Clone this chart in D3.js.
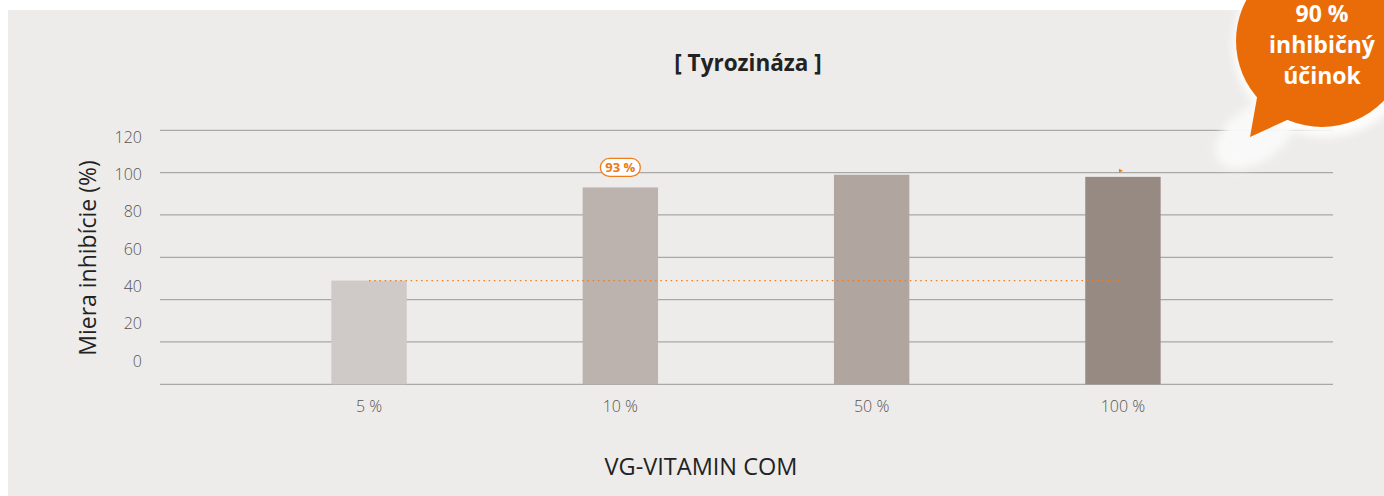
<!DOCTYPE html>
<html>
<head>
<meta charset="utf-8">
<script src="https://cdn.jsdelivr.net/npm/d3@7"></script>
<style>
  body { margin: 0; background: #fff; }
  svg { display: block; font-family: "Open Sans", sans-serif; }
</style>
</head>
<body>
<script>
// data
var categories = ["5 %", "10 %", "50 %", "100 %"];
var values = [49, 93, 99, 98];
var barColors = ["#cfc9c8", "#bdb3ae", "#b1a59f", "#978a82"];
var yTicks = [0, 20, 40, 60, 80, 100, 120];
var refLevel = 49;
var callout = { index: 1, text: "93 %" };
var bubbleLines = ["90 %", "inhibičný", "účinok"];

var W = 1384, H = 496;

var svg = d3.select("body").append("svg")
    .attr("width", W)
    .attr("height", H);

var defs = svg.append("defs");
defs.append("filter").attr("id", "blur")
    .attr("x", "-50%").attr("y", "-50%").attr("width", "200%").attr("height", "200%")
  .append("feGaussianBlur").attr("stdDeviation", 4);

// panel background
svg.append("rect")
    .attr("x", 8).attr("y", 10)
    .attr("width", W - 8).attr("height", H - 10)
    .attr("fill", "#edecea");

var y = d3.scaleLinear().domain([0, 120]).range([384.3, 130.3]);
// the tick labels sit on their own spacing in the original
var yLab = d3.scaleLinear().domain([0, 120]).range([361, 137]);
var x = d3.scaleBand().domain(categories)
    .range([243.4, 1248.6])
    .paddingInner(0.7).paddingOuter(0.35);

// gridlines
svg.append("g").selectAll("line")
    .data(yTicks)
    .enter().append("line")
    .attr("x1", 160).attr("x2", 1333)
    .attr("y1", function(d) { return y(d); })
    .attr("y2", function(d) { return y(d); })
    .attr("stroke", "#a8a8a6")
    .attr("stroke-width", 1.3);

// y tick labels
var yAxis = d3.axisLeft(yLab).tickValues(yTicks).tickSize(0).tickPadding(0);
var ga = svg.append("g").attr("transform", "translate(142,0)").call(yAxis);
ga.select(".domain").remove();
ga.selectAll("text")
    .attr("font-family", "Open Sans")
    .attr("font-size", 16)
    .attr("font-weight", 300)
    .attr("fill", "#555");

// bars
svg.append("g").selectAll("rect")
    .data(values)
    .enter().append("rect")
    .attr("x", function(d, i) { return x(categories[i]); })
    .attr("y", function(d) { return y(d); })
    .attr("width", x.bandwidth())
    .attr("height", function(d) { return y(0) - y(d); })
    .attr("fill", function(d, i) { return barColors[i]; });

// x labels
var xAxis = d3.axisBottom(x).tickSize(0).tickPadding(0);
var gx = svg.append("g").attr("transform", "translate(0,401)").call(xAxis);
gx.select(".domain").remove();
gx.selectAll("text")
    .attr("font-family", "Open Sans")
    .attr("font-size", 16)
    .attr("font-weight", 300)
    .attr("fill", "#555");

// orange dotted reference line
svg.append("line")
    .attr("x1", x(categories[0]) + x.bandwidth() / 2)
    .attr("x2", x(categories[3]) + x.bandwidth() / 2 - 4)
    .attr("y1", y(refLevel)).attr("y2", y(refLevel))
    .attr("stroke", "#f07d1a")
    .attr("stroke-width", 1.4)
    .attr("stroke-dasharray", "1.5,3.7");

// small orange marker above the last bar
var mx = x(categories[3]) + x.bandwidth() / 2 - 4;
svg.append("path")
    .attr("d", "M" + mx + "," + (y(100) - 4) + "l4,2l-4,2z")
    .attr("fill", "#f07d1a");

// 93 % callout
var cx = x(categories[callout.index]) + x.bandwidth() / 2;
var cy = y(values[callout.index]) - 20;
svg.append("rect")
    .attr("x", cx - 20).attr("y", cy - 9)
    .attr("width", 40).attr("height", 18)
    .attr("rx", 9)
    .attr("fill", "#fff")
    .attr("stroke", "#f07d1a")
    .attr("stroke-width", 1.3);
svg.append("text")
    .attr("x", cx).attr("y", cy + 4.5)
    .attr("text-anchor", "middle")
    .attr("font-family", "Open Sans")
    .attr("font-weight", 700)
    .attr("font-size", 13)
    .attr("fill", "#ef7716")
    .text(callout.text);

// titles
svg.append("text")
    .attr("x", 748).attr("y", 71)
    .attr("text-anchor", "middle")
    .attr("font-family", "Open Sans")
    .attr("font-weight", 700)
    .attr("font-size", 22.5)
    .attr("fill", "#222")
    .text("[ Tyrozináza ]");

svg.append("text")
    .attr("transform", "translate(96,258) rotate(-90)")
    .attr("text-anchor", "middle")
    .attr("font-family", "Open Sans")
    .attr("font-size", 23)
    .attr("fill", "#222")
    .text("Miera inhibície (%)");

svg.append("text")
    .attr("x", 701).attr("y", 475)
    .attr("text-anchor", "middle")
    .attr("font-family", "Open Sans")
    .attr("font-size", 23.5)
    .attr("fill", "#222")
    .text("VG-VITAMIN COM");

// speech bubble
var b = svg.append("g");
b.append("ellipse")
    .attr("cx", 1256).attr("cy", 134)
    .attr("rx", 46).attr("ry", 27)
    .attr("transform", "rotate(-35,1256,134)")
    .attr("fill", "#fafafa")
    .attr("opacity", 0.95)
    .attr("filter", "url(#blur)");
b.append("circle")
    .attr("cx", 1325).attr("cy", 45).attr("r", 92)
    .attr("fill", "#ffffff")
    .attr("opacity", 0.9)
    .attr("filter", "url(#blur)");
b.append("path")
    .attr("d", "M1258,92 L1250,137 L1296,116 Z")
    .attr("fill", "#ea6c08");
b.append("circle")
    .attr("cx", 1322).attr("cy", 41).attr("r", 86)
    .attr("fill", "#ea6c08");
b.selectAll("text")
    .data(bubbleLines)
    .enter().append("text")
    .attr("x", 1322)
    .attr("y", function(d, i) { return 22 + i * 31; })
    .attr("text-anchor", "middle")
    .attr("font-family", "Open Sans")
    .attr("font-weight", 700)
    .attr("font-size", 23)
    .attr("fill", "#fff")
    .text(function(d) { return d; });
</script>
</body>
</html>
